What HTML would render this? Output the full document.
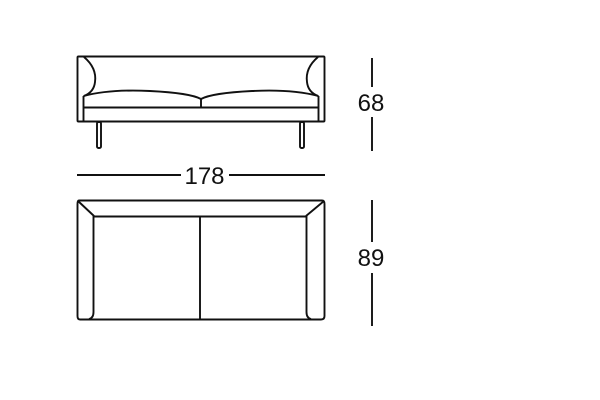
<!DOCTYPE html>
<html><head><meta charset="utf-8"><style>html,body{margin:0;padding:0;background:#fff}svg{display:block}</style></head>
<body>
<svg width="600" height="400" viewBox="0 0 600 400" xmlns="http://www.w3.org/2000/svg">
<g fill="none" stroke="#111" stroke-width="1.9">
<!-- front view -->
<rect x="77.5" y="56.5" width="247" height="65" rx="1"/>
<path d="M84 57 Q97 68 95 82 Q94 92 84 96"/>
<path d="M318 57 Q305 68 307 82 Q308 92 318 96"/>
<line x1="83.5" y1="96" x2="83.5" y2="121"/>
<line x1="318.5" y1="96" x2="318.5" y2="121"/>
<path d="M83.5 96 Q110 89 150 91 Q190 93 201 99 Q212 93 252 91 Q292 89 318.5 96"/>
<line x1="201" y1="99" x2="201" y2="107"/>
<line x1="83.5" y1="107.5" x2="318.5" y2="107.5"/>
<rect x="97" y="122" width="4" height="26" rx="1.5"/>
<rect x="300" y="122" width="4" height="26" rx="1.5"/>
<!-- top view -->
<path d="M79 200.5 H322 Q324.5 200.5 324.5 204 V316 Q324.5 319.5 321 319.5 H80 Q77.5 319.5 77.5 316 V204 Q77.5 200.5 79 200.5 Z"/>
<line x1="78" y1="201" x2="94" y2="216"/>
<line x1="324" y1="201" x2="306" y2="216"/>
<line x1="94" y1="216.5" x2="306" y2="216.5"/>
<path d="M93.5 216 V312 Q93.5 318 89 319"/>
<path d="M306.5 216 V312 Q306.5 318 311 319"/>
<line x1="200" y1="216" x2="200" y2="319"/>
<!-- dimensions -->
<line x1="77" y1="175" x2="181" y2="175"/>
<line x1="229" y1="175" x2="325" y2="175"/>
<line x1="372" y1="58" x2="372" y2="87"/>
<line x1="372" y1="117" x2="372" y2="151"/>
<line x1="372" y1="200" x2="372" y2="242"/>
<line x1="372" y1="273" x2="372" y2="326"/>
</g>
<g font-family="Liberation Sans, sans-serif" font-size="24" fill="#111" text-anchor="middle">
<text x="204.5" y="184">178</text>
<text x="371" y="111">68</text>
<text x="371" y="266">89</text>
</g>
</svg>
</body></html>
